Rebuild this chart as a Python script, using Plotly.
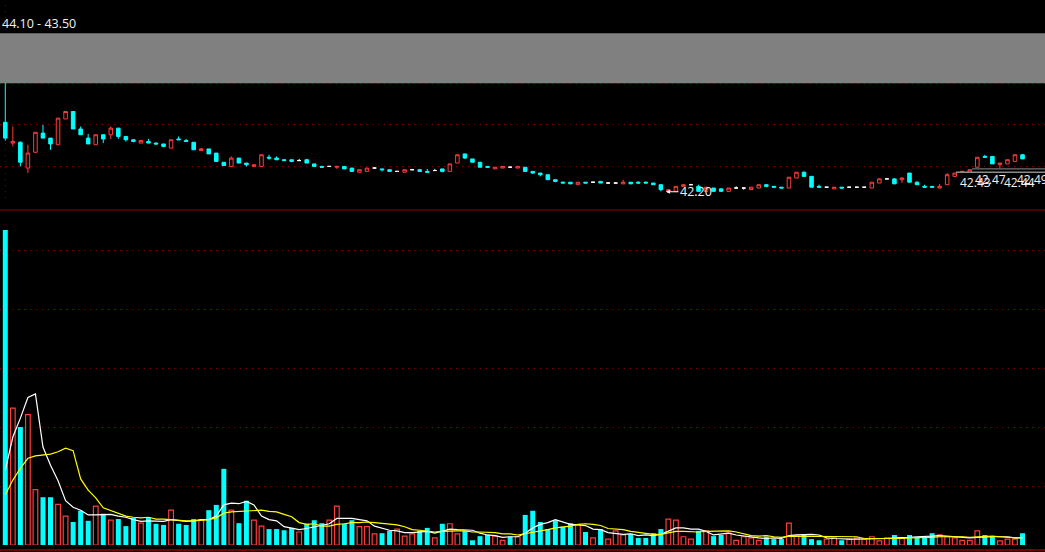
import plotly.graph_objects as go

# ---------------- data ----------------
opens = [43.03, 42.78, 42.79, 42.48, 42.67, 42.90, 42.84, 42.76, 43.07, 43.16,
         42.95, 42.84, 42.76, 42.88, 42.88, 42.96, 42.86, 42.82, 42.78, 42.80,
         42.78, 42.77, 42.72, 42.83, 42.81, 42.79, 42.69, 42.71, 42.66, 42.55,
         42.50, 42.60, 42.54, 42.50, 42.50, 42.61, 42.60, 42.58, 42.58, 42.57,
         42.58, 42.53, 42.50, 42.50, 42.49, 42.50, 42.48, 42.43, 42.44, 42.48,
         42.47, 42.46, 42.44, 42.43, 42.46, 42.46, 42.44, 42.45, 42.47, 42.44,
         42.54, 42.65, 42.59, 42.55, 42.50, 42.47, 42.48, 42.49, 42.48, 42.49,
         42.44, 42.42, 42.40, 42.34, 42.31, 42.31, 42.28, 42.31, 42.31, 42.32,
         42.30, 42.30, 42.29, 42.31, 42.31, 42.31, 42.30, 42.28, 42.20, 42.20,
         42.26, 42.28, 42.26, 42.20, 42.24, 42.23, 42.20, 42.24, 42.24, 42.22,
         42.24, 42.28, 42.26, 42.25, 42.24, 42.36, 42.43, 42.38, 42.26, 42.25,
         42.23, 42.25, 42.25, 42.25, 42.25, 42.24, 42.30, 42.35, 42.35, 42.34,
         42.42, 42.31, 42.26, 42.26, 42.24, 42.28, 42.38, 42.43, 42.43, 42.49,
         42.62, 42.62, 42.52, 42.53, 42.56, 42.64]
closes = [42.84, 42.80, 42.55, 42.66, 42.91, 42.84, 42.77, 43.08, 43.16, 42.95,
          42.88, 42.77, 42.88, 42.83, 42.96, 42.86, 42.82, 42.80, 42.81, 42.78,
          42.77, 42.74, 42.82, 42.82, 42.80, 42.70, 42.71, 42.65, 42.56, 42.51,
          42.60, 42.54, 42.52, 42.52, 42.64, 42.60, 42.58, 42.57, 42.56, 42.57,
          42.54, 42.50, 42.49, 42.50, 42.50, 42.47, 42.44, 42.46, 42.48, 42.48,
          42.46, 42.44, 42.44, 42.46, 42.46, 42.44, 42.43, 42.45, 42.44, 42.53,
          42.64, 42.60, 42.55, 42.49, 42.49, 42.49, 42.50, 42.49, 42.50, 42.44,
          42.42, 42.40, 42.34, 42.32, 42.30, 42.29, 42.31, 42.30, 42.31, 42.30,
          42.30, 42.30, 42.31, 42.29, 42.30, 42.30, 42.28, 42.22, 42.22, 42.26,
          42.28, 42.28, 42.20, 42.25, 42.20, 42.20, 42.24, 42.24, 42.24, 42.25,
          42.28, 42.26, 42.25, 42.24, 42.37, 42.43, 42.38, 42.25, 42.25, 42.25,
          42.25, 42.24, 42.25, 42.25, 42.25, 42.31, 42.35, 42.35, 42.29, 42.36,
          42.31, 42.28, 42.25, 42.25, 42.26, 42.40, 42.42, 42.44, 42.46, 42.61,
          42.61, 42.53, 42.54, 42.58, 42.64, 42.59]
highs = [44.00, 42.98, 42.80, 42.76, 42.91, 43.00, 42.84, 43.08, 43.16, 43.16,
         42.98, 42.89, 42.88, 42.88, 42.98, 42.96, 42.86, 42.82, 42.82, 42.83,
         42.79, 42.77, 42.82, 42.86, 42.83, 42.79, 42.72, 42.71, 42.66, 42.55,
         42.62, 42.60, 42.54, 42.52, 42.64, 42.64, 42.62, 42.59, 42.58, 42.59,
         42.59, 42.53, 42.50, 42.50, 42.50, 42.50, 42.48, 42.46, 42.48, 42.49,
         42.47, 42.46, 42.44, 42.46, 42.47, 42.47, 42.47, 42.47, 42.47, 42.53,
         42.64, 42.65, 42.59, 42.55, 42.50, 42.49, 42.50, 42.50, 42.50, 42.49,
         42.44, 42.42, 42.40, 42.34, 42.32, 42.31, 42.31, 42.31, 42.31, 42.32,
         42.31, 42.31, 42.34, 42.31, 42.32, 42.32, 42.30, 42.28, 42.22, 42.26,
         42.28, 42.29, 42.28, 42.25, 42.24, 42.23, 42.24, 42.26, 42.24, 42.25,
         42.28, 42.28, 42.26, 42.25, 42.37, 42.43, 42.44, 42.38, 42.28, 42.25,
         42.25, 42.25, 42.25, 42.25, 42.25, 42.31, 42.36, 42.35, 42.36, 42.37,
         42.42, 42.32, 42.28, 42.26, 42.29, 42.42, 42.42, 42.44, 42.46, 42.61,
         42.64, 42.62, 42.54, 42.58, 42.64, 42.65]
lows = [42.81, 42.74, 42.50, 42.42, 42.66, 42.84, 42.70, 42.76, 43.07, 42.95,
        42.88, 42.77, 42.76, 42.78, 42.83, 42.83, 42.80, 42.79, 42.78, 42.78,
        42.76, 42.73, 42.72, 42.82, 42.80, 42.70, 42.69, 42.65, 42.56, 42.51,
        42.50, 42.54, 42.50, 42.50, 42.50, 42.58, 42.58, 42.57, 42.55, 42.57,
        42.54, 42.50, 42.49, 42.50, 42.47, 42.47, 42.44, 42.43, 42.44, 42.48,
        42.44, 42.44, 42.44, 42.43, 42.46, 42.44, 42.43, 42.45, 42.43, 42.44,
        42.54, 42.59, 42.55, 42.49, 42.48, 42.47, 42.48, 42.49, 42.48, 42.44,
        42.41, 42.38, 42.34, 42.31, 42.30, 42.29, 42.28, 42.30, 42.31, 42.30,
        42.30, 42.30, 42.29, 42.29, 42.29, 42.30, 42.28, 42.20, 42.20, 42.20,
        42.26, 42.28, 42.20, 42.20, 42.20, 42.20, 42.20, 42.24, 42.22, 42.22,
        42.24, 42.25, 42.25, 42.24, 42.24, 42.36, 42.38, 42.25, 42.25, 42.25,
        42.23, 42.24, 42.25, 42.25, 42.25, 42.24, 42.30, 42.35, 42.29, 42.30,
        42.31, 42.28, 42.25, 42.25, 42.24, 42.28, 42.38, 42.43, 42.43, 42.49,
        42.61, 42.53, 42.48, 42.53, 42.56, 42.59]
volumes = [534, 232, 200, 221, 94, 81, 81, 69, 49, 39,
           58, 41, 66, 53, 42, 44, 32, 46, 37, 47,
           36, 34, 59, 36, 34, 44, 42, 59, 68, 129,
           59, 37, 75, 42, 32, 27, 27, 25, 29, 22,
           36, 42, 37, 42, 66, 36, 42, 31, 31, 19,
           20, 24, 27, 15, 19, 24, 29, 12, 36, 36,
           19, 24, 8, 15, 17, 15, 8, 14, 14, 51,
           58, 39, 27, 42, 31, 37, 34, 22, 12, 27,
           10, 24, 17, 19, 12, 12, 20, 27, 44, 42,
           14, 10, 24, 24, 15, 17, 20, 8, 14, 12,
           8, 14, 10, 10, 37, 15, 17, 10, 8, 10,
           12, 8, 10, 12, 10, 14, 7, 12, 17, 12,
           17, 12, 12, 20, 17, 14, 12, 8, 8, 24,
           17, 14, 7, 10, 10, 20]
ma5 = [127, 183, 215, 250, 256, 166, 135, 109, 75, 64,
       59, 51, 51, 51, 52, 49, 47, 43, 40, 41,
       40, 40, 43, 42, 40, 41, 43, 43, 49, 68,
       71, 70, 74, 68, 49, 43, 41, 31, 28, 26,
       28, 31, 33, 36, 45, 45, 45, 43, 41, 32,
       29, 25, 24, 21, 21, 22, 23, 20, 24, 27,
       26, 25, 25, 20, 17, 16, 13, 14, 14, 20,
       29, 35, 38, 43, 39, 35, 34, 33, 27, 26,
       21, 19, 18, 19, 16, 17, 16, 18, 23, 29,
       29, 27, 27, 23, 17, 18, 20, 17, 15, 14,
       12, 11, 12, 11, 16, 17, 18, 18, 17, 12,
       11, 10, 10, 10, 10, 11, 11, 11, 12, 12,
       13, 14, 14, 15, 16, 15, 15, 14, 12, 13,
       14, 14, 14, 14, 12, 12]
ma10 = [85, 110, 130, 147, 151, 152, 154, 158, 164, 160,
        112, 93, 80, 63, 58, 54, 49, 47, 46, 47,
        44, 44, 43, 41, 41, 41, 42, 43, 46, 54,
        56, 57, 58, 59, 59, 57, 56, 52, 48, 38,
        35, 36, 32, 32, 35, 36, 38, 38, 39, 38,
        37, 35, 34, 31, 26, 25, 24, 22, 23, 24,
        24, 24, 22, 22, 22, 21, 19, 19, 17, 19,
        22, 24, 26, 29, 30, 32, 35, 36, 35, 33,
        28, 27, 26, 23, 21, 19, 18, 18, 21, 23,
        23, 22, 22, 23, 23, 24, 24, 22, 19, 16,
        15, 16, 14, 13, 15, 15, 15, 15, 14, 14,
        14, 14, 14, 14, 11, 11, 10, 10, 11, 11,
        12, 12, 13, 13, 14, 14, 15, 14, 13, 14,
        14, 15, 14, 13, 12, 13]
range_label = "44.10 - 43.50"
range_hi, range_lo = 44.10, 43.50
low_label = "42.20"
low_price = 42.20
right_labels = ["42.43", "42.47", "42.44", "42.49"]
price_lines = [42.47, 42.43]

# ---------------- styling ----------------
W, H = 1045, 552
RED = "#ff3c3c"
CYAN = "#00ffff"
GRID = "#7a0000"
SEP = "#9a0000"
DOT = "1px,5px"
FONT = "Open Sans, Liberation Sans, Arial"

n = len(opens)
xs = list(range(n))

def py(px):  # pixel row -> paper fraction
    return 1 - px / H

def px_x(px):
    return px / W

up = [i for i in xs if closes[i] > opens[i]]
dn = [i for i in xs if closes[i] < opens[i]]
fl = [i for i in xs if closes[i] == opens[i]]

def vol_rising(i):
    if closes[i] != opens[i]:
        return closes[i] > opens[i]
    return i == 0 or closes[i] >= closes[i - 1]

vup = [i for i in xs if vol_rising(i)]
vdn = [i for i in xs if not vol_rising(i)]

def sub(arr, idx):
    return [arr[i] for i in idx]

fig = go.Figure()

def add_candles(idx, inc_line, inc_fill, dec_line, dec_fill):
    fig.add_trace(go.Candlestick(
        x=idx, open=sub(opens, idx), high=sub(highs, idx),
        low=sub(lows, idx), close=sub(closes, idx),
        increasing=dict(line=dict(color=inc_line, width=1), fillcolor=inc_fill),
        decreasing=dict(line=dict(color=dec_line, width=1), fillcolor=dec_fill),
        whiskerwidth=0, xaxis="x", yaxis="y", hoverinfo="skip"))

add_candles(up, RED, "#000000", RED, "#000000")
add_candles(dn, CYAN, CYAN, CYAN, CYAN)
add_candles(fl, "#ffffff", "#ffffff", "#ffffff", "#ffffff")

fig.add_trace(go.Bar(x=vdn, y=sub(volumes, vdn), width=0.66,
                     marker=dict(color=CYAN, line=dict(width=0)),
                     xaxis="x", yaxis="y2", hoverinfo="skip"))
fig.add_trace(go.Bar(x=vup, y=sub(volumes, vup), width=0.62,
                     marker=dict(color="#000000", line=dict(color=RED, width=1.2)),
                     xaxis="x", yaxis="y2", hoverinfo="skip"))
fig.add_trace(go.Scatter(x=xs, y=ma5, mode="lines",
                         line=dict(color="#ffffff", width=1.2),
                         xaxis="x", yaxis="y2", hoverinfo="skip"))
fig.add_trace(go.Scatter(x=xs, y=ma10, mode="lines",
                         line=dict(color="#ffff00", width=1.2),
                         xaxis="x", yaxis="y2", hoverinfo="skip"))

# axes geometry
price_top_px, price_bot_px = 0, 208
vol_top_px, vol_bot_px = 212, 545
vol_grid_step_px = 59.0
vol_max = (vol_bot_px - vol_top_px) / vol_grid_step_px * 100

shapes = [
    dict(type="rect", xref="paper", yref="y", x0=0, x1=1, y0=range_lo, y1=range_hi,
         fillcolor="#808080", line=dict(width=0), layer="above"),
    dict(type="line", xref="x", yref="paper", x0=0, x1=0, y0=py(198), y1=1,
         line=dict(color=GRID, width=1, dash=DOT), layer="below"),
    dict(type="line", xref="paper", yref="paper", x0=0, x1=1, y0=py(210), y1=py(210),
         line=dict(color=SEP, width=1)),
    dict(type="line", xref="paper", yref="paper", x0=0, x1=1, y0=py(550), y1=py(550),
         line=dict(color=SEP, width=1.5)),
    dict(type="line", xref="paper", yref="y", x0=px_x(972), x1=1, y0=price_lines[0], y1=price_lines[0],
         line=dict(color="#8c8c8c", width=1)),
    dict(type="line", xref="paper", yref="y", x0=px_x(956), x1=1, y0=price_lines[1], y1=price_lines[1],
         line=dict(color="#8c8c8c", width=1.5)),
]

txt = dict(color="#f2f2f2", size=12.5, family=FONT)
txt_r = dict(color="#f2f2f2", size=12, family=FONT)
annotations = [
    dict(text=range_label, xref="paper", yref="paper", x=0, y=py(24),
         xanchor="left", yanchor="middle", showarrow=False, font=txt),
    dict(text=low_label, xref="paper", yref="y", x=px_x(666), y=low_price - 0.005,
         ax=30, ay=0, showarrow=True, arrowhead=2, arrowsize=0.8, arrowwidth=1,
         arrowcolor="#ffffff", font=txt),
]
label_pos = [(958, 182.5), (973, 179), (1002, 182.5), (1015, 179)]
for t, (lx, ly) in zip(right_labels, label_pos):
    annotations.append(dict(text=t, xref="paper", yref="paper", x=px_x(lx), y=py(ly),
                            xanchor="left", yanchor="middle", showarrow=False, font=txt_r))

x_left = -5.3 / 7.535
x_right = x_left + W / 7.535

fig.update_layout(
    width=W, height=H, margin=dict(l=0, r=0, t=0, b=0),
    paper_bgcolor="#000000", plot_bgcolor="#000000",
    showlegend=False, boxgap=0.33, barmode="overlay",
    xaxis=dict(domain=[0, 1], range=[x_left, x_right], visible=False,
               rangeslider=dict(visible=False), fixedrange=True),
    yaxis=dict(domain=[py(price_bot_px), py(price_top_px)], range=[42.0, 44.5],
               tickvals=[42.5, 43.0, 43.5, 44.0], showticklabels=False,
               showgrid=True, gridcolor=GRID, griddash=DOT, gridwidth=1,
               zeroline=False, showline=False),
    yaxis2=dict(domain=[py(vol_bot_px), py(vol_top_px)], range=[0, vol_max],
                tickvals=[100, 200, 300, 400, 500], showticklabels=False,
                showgrid=True, gridcolor=GRID, griddash=DOT, gridwidth=1,
                zeroline=False, showline=False, anchor="x"),
    shapes=shapes, annotations=annotations,
)

fig.write_html("out.html",
               config={"displayModeBar": False},
               post_script="document.body.style.margin='0';document.body.style.background='#000';")
